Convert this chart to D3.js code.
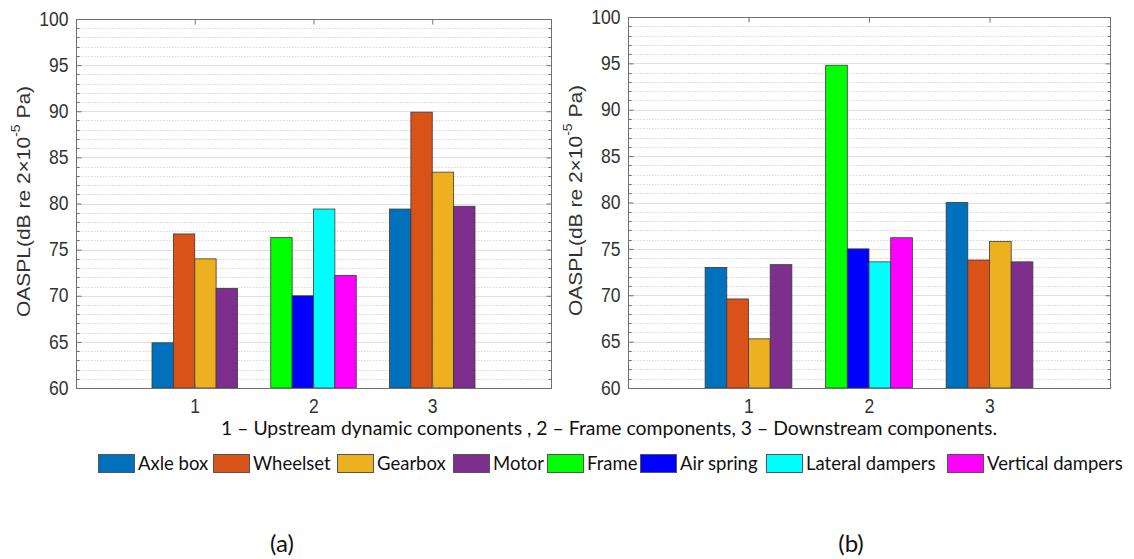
<!DOCTYPE html>
<html>
<head>
<meta charset="utf-8">
<script src="https://cdn.jsdelivr.net/npm/d3@7/dist/d3.min.js"></script>
<style>
  html, body { margin: 0; padding: 0; background: #fff; }
  svg { display: block; }
</style>
</head>
<body>
<svg id="fig" width="1134" height="559"></svg>
<script>
// Component groups along the x axis
const groups = [1, 2, 3];
const groupSeries = [
  ["Axle box", "Wheelset", "Gearbox", "Motor"],
  ["Frame", "Air spring", "Lateral dampers", "Vertical dampers"],
  ["Axle box", "Wheelset", "Gearbox", "Motor"]
];
// OASPL values, dB re 2x10^-5 Pa, one row per group
const valuesA = [
  [64.9, 76.7, 74.0, 70.8],
  [76.3, 70.0, 79.4, 72.2],
  [79.4, 89.9, 83.4, 79.7]
];
const valuesB = [
  [73.0, 69.6, 65.3, 73.3],
  [94.8, 75.0, 73.6, 76.2],
  [80.0, 73.8, 75.8, 73.6]
];
const yTicks = [60, 65, 70, 75, 80, 85, 90, 95, 100];
const legendNames = ["Axle box", "Wheelset", "Gearbox", "Motor", "Frame", "Air spring", "Lateral dampers", "Vertical dampers"];
const legendColors = ["#0072BD", "#D95319", "#EDB120", "#7E2F8E", "#00FF00", "#0000FF", "#00FFFF", "#FF00FF"];
const caption = "1 \u2013 Upstream dynamic components , 2 \u2013 Frame components, 3 \u2013 Downstream components.";

const color = d3.scaleOrdinal().domain(legendNames).range(legendColors);
const svg = d3.select("#fig");
const axisFont = "Liberation Sans, Arial, sans-serif";

const panels = [
  { values: valuesA, x0: 76, x1: 551, yTop: 19, yBot: 388, labelX: 23, tag: "(a)", tagX: 282 },
  { values: valuesB, x0: 628, x1: 1110, yTop: 17, yBot: 388, labelX: 575, tag: "(b)", tagX: 851 }
];

const barW = 0.18; // bar width in x-axis units

panels.forEach((p) => {
  const x = d3.scaleLinear().domain([0, 4]).range([p.x0, p.x1]);
  const y = d3.scaleLinear().domain([60, 100]).range([p.yBot, p.yTop]);
  const g = svg.append("g");
  const minor = d3.range(60, 100.5, 1).filter(v => v % 5 !== 0);

  // minor grid (dotted) and major grid (solid)
  g.append("g").selectAll("line").data(minor).join("line")
    .attr("x1", p.x0).attr("x2", p.x1)
    .attr("y1", d => Math.round(y(d)) + 0.5).attr("y2", d => Math.round(y(d)) + 0.5)
    .attr("stroke", "#d6d6d6").attr("stroke-width", 1).attr("stroke-dasharray", "1.5,1.5");
  g.append("g").selectAll("line").data(yTicks.slice(1, -1)).join("line")
    .attr("x1", p.x0).attr("x2", p.x1)
    .attr("y1", d => Math.round(y(d)) + 0.5).attr("y2", d => Math.round(y(d)) + 0.5)
    .attr("stroke", "#e0e0e0").attr("stroke-width", 1);

  // bars
  const rows = [];
  p.values.forEach((row, gi) => row.forEach((v, j) => rows.push({ g: groups[gi], j, v, name: groupSeries[gi][j] })));
  g.append("g").selectAll("rect").data(rows).join("rect")
    .attr("x", d => x(d.g + (d.j - 2) * barW))
    .attr("width", d => x(d.g + (d.j - 1) * barW) - x(d.g + (d.j - 2) * barW))
    .attr("y", d => y(d.v))
    .attr("height", d => y(60) - y(d.v))
    .attr("fill", d => color(d.name))
    .attr("stroke", "#3a3a3a").attr("stroke-width", 0.8);

  // axes box
  g.append("rect")
    .attr("x", p.x0 + 0.5).attr("y", Math.round(p.yTop) + 0.5)
    .attr("width", p.x1 - p.x0).attr("height", p.yBot - p.yTop)
    .attr("fill", "none").attr("stroke", "#707070").attr("stroke-width", 1);

  // left axis with inward ticks
  const left = d3.axisLeft(y).tickValues(yTicks).tickSize(-5).tickPadding(9).tickFormat(d3.format("d"));
  const gl = g.append("g").attr("transform", `translate(${p.x0 + 0.5},0)`).call(left);
  gl.select(".domain").remove();
  gl.selectAll(".tick line").attr("stroke", "#707070");
  gl.selectAll(".tick text").attr("font-family", axisFont).attr("font-size", 19.5).attr("fill", "#333")
    .attr("transform", "scale(0.9,1)");

  // right axis ticks (inward, unlabeled)
  const right = d3.axisRight(y).tickValues(yTicks).tickSize(-5).tickFormat("");
  const gr = g.append("g").attr("transform", `translate(${p.x1 + 0.5},0)`).call(right);
  gr.select(".domain").remove();
  gr.selectAll(".tick line").attr("stroke", "#707070");

  // minor ticks on both sides
  [[p.x0 + 0.5, 3], [p.x1 + 0.5, -3]].forEach(([xx, len]) => {
    g.append("g").selectAll("line").data(minor).join("line")
      .attr("x1", xx).attr("x2", xx + len)
      .attr("y1", d => Math.round(y(d)) + 0.5).attr("y2", d => Math.round(y(d)) + 0.5)
      .attr("stroke", "#707070");
  });

  // bottom axis labels and top ticks
  const bottom = d3.axisBottom(x).tickValues(groups).tickSize(-5).tickPadding(11).tickFormat(d3.format("d"));
  const gb = g.append("g").attr("transform", `translate(0,${p.yBot + 0.5})`).call(bottom);
  gb.select(".domain").remove();
  gb.selectAll(".tick line").attr("stroke", "#707070");
  gb.selectAll(".tick text").attr("font-family", axisFont).attr("font-size", 19.5).attr("fill", "#333")
    .attr("transform", "scale(0.9,1)");
  const top = d3.axisTop(x).tickValues(groups).tickSize(-5).tickFormat("");
  const gt = g.append("g").attr("transform", `translate(0,${Math.round(p.yTop) + 0.5})`).call(top);
  gt.select(".domain").remove();
  gt.selectAll(".tick line").attr("stroke", "#707070");

  // y axis title
  const yt = g.append("text")
    .attr("transform", `translate(${p.labelX},${(p.yTop + p.yBot) / 2 - 2}) rotate(-90) scale(1,0.9)`)
    .attr("text-anchor", "middle").attr("dominant-baseline", "central")
    .attr("font-family", axisFont).attr("font-size", 21).attr("fill", "#333");
  yt.append("tspan").text("OASPL(dB re 2\u00D710");
  yt.append("tspan").text("-5").attr("font-size", 14).attr("dy", -9);
  yt.append("tspan").text(" Pa)").attr("dy", 9);

  // panel tag
  svg.append("text").attr("x", p.tagX).attr("y", 552).attr("text-anchor", "middle")
    .attr("font-family", "Lato, sans-serif").attr("font-size", 24).attr("fill", "#111").text(p.tag);
});

// caption line under the axes
svg.append("text").attr("x", 221).attr("y", 435)
  .attr("font-family", "Lato, sans-serif").attr("font-size", 19.5).attr("fill", "#111")
  .attr("textLength", 776).attr("lengthAdjust", "spacingAndGlyphs")
  .text(caption);

// legend row
const legendX = [98, 213, 337, 453, 547, 640, 766, 947];
const lg = svg.append("g");
legendNames.forEach((n, i) => {
  lg.append("rect").attr("x", legendX[i] + 0.5).attr("y", 454.5).attr("width", 36).attr("height", 18)
    .attr("fill", color(n)).attr("stroke", "#555").attr("stroke-width", 1);
  lg.append("g").attr("transform", `translate(${legendX[i] + 40},469.5) scale(0.95,1)`)
    .append("text")
    .attr("font-family", "Lato, sans-serif").attr("font-size", 19.5).attr("fill", "#111").text(n);
});
</script>
</body>
</html>
